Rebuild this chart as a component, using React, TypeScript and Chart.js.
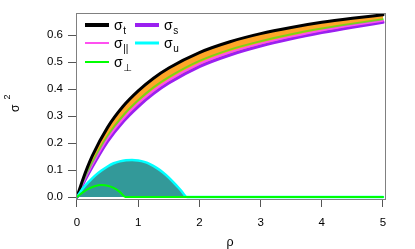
import { useEffect, useRef } from 'react';
import { Chart, registerables } from 'chart.js';

Chart.register(...registerables);

// rho grid for the upper band of curves
const rhoTop = [0, 0.1, 0.25, 0.5, 0.75, 1, 1.25, 1.5, 2, 2.5, 3, 3.5, 4, 4.5, 5];
const sigmaT = [0, 0.068, 0.152, 0.258, 0.335, 0.393, 0.44, 0.478, 0.535, 0.575, 0.605, 0.628, 0.647, 0.662, 0.675];
const sigmaPerpTop = [0, 0.057, 0.128, 0.227, 0.301, 0.358, 0.406, 0.444, 0.504, 0.546, 0.577, 0.603, 0.624, 0.642, 0.658];
const sigmaPar = [0, 0.053, 0.12, 0.217, 0.289, 0.347, 0.394, 0.433, 0.493, 0.536, 0.568, 0.594, 0.617, 0.636, 0.653];
const sigmaS = [0, 0.049, 0.112, 0.206, 0.278, 0.335, 0.383, 0.422, 0.483, 0.526, 0.559, 0.586, 0.609, 0.629, 0.647];

// sigma_u bump
const rhoU = [0, 0.1, 0.2, 0.3, 0.4, 0.5, 0.6, 0.7, 0.8, 0.9, 1.0, 1.1, 1.2, 1.3, 1.4, 1.5, 1.6, 1.7, 1.8, 5];
const sigmaU = [0, 0.033, 0.058, 0.08, 0.098, 0.113, 0.125, 0.132, 0.136, 0.137, 0.135, 0.13, 0.121, 0.108, 0.092, 0.072, 0.049, 0.024, 0, 0];

// sigma_perp bump
const rhoPerp = [0, 0.1, 0.2, 0.3, 0.4, 0.5, 0.6, 0.7, 0.79, 5];
const sigmaPerp = [0, 0.018, 0.032, 0.041, 0.044, 0.042, 0.034, 0.019, 0, 0];

const xTicks = [0, 1, 2, 3, 4, 5];
const yTicks = [0, 0.1, 0.2, 0.3, 0.4, 0.5, 0.6];

const legendSubs = ['t', 's', '||', 'u', '⊥'];

const FONT = '"Liberation Sans", Arial, "DejaVu Sans", sans-serif';

function pts(xs: number[], ys: number[]) {
  return xs.map((x, i) => ({ x, y: ys[i] }));
}

const decorPlugin = {
  id: 'decor',
  afterDraw(chart: any) {
    const ctx = chart.ctx as CanvasRenderingContext2D;
    const a = chart.chartArea;
    ctx.save();
    // box
    ctx.strokeStyle = '#808080';
    ctx.lineWidth = 1;
    ctx.strokeRect(a.left + 0.5, a.top + 0.5, a.right - a.left, a.bottom - a.top);

    // legend
    const items = [
      { sub: legendSubs[0], color: '#000000', w: 4, x: 85, y: 25 },
      { sub: legendSubs[1], color: '#9A20F0', w: 4, x: 135, y: 25 },
      { sub: legendSubs[2], color: '#FF50F0', w: 2, x: 85, y: 43 },
      { sub: legendSubs[3], color: '#00FFFF', w: 3, x: 135, y: 43 },
      { sub: legendSubs[4], color: '#00FF00', w: 2, x: 85, y: 62 },
    ];
    for (const it of items) {
      ctx.strokeStyle = it.color;
      ctx.lineWidth = it.w;
      ctx.lineCap = 'butt';
      ctx.beginPath();
      ctx.moveTo(it.x, it.y);
      ctx.lineTo(it.x + 24, it.y);
      ctx.stroke();
      ctx.fillStyle = '#000';
      ctx.textAlign = 'left';
      ctx.textBaseline = 'alphabetic';
      ctx.font = '14px ' + FONT;
      const tx = it.x + 29;
      ctx.fillText('σ', tx, it.y + 5);
      const sw = ctx.measureText('σ').width;
      ctx.font = '10px ' + FONT;
      ctx.fillText(it.sub, tx + sw + 0.5, it.y + 8.5);
    }

    // y title sigma^2
    ctx.save();
    ctx.translate(18.5, 106);
    ctx.rotate(-Math.PI / 2);
    ctx.fillStyle = '#000';
    ctx.textAlign = 'left';
    ctx.textBaseline = 'alphabetic';
    ctx.font = '12px ' + FONT;
    ctx.fillText('σ', -6, 0);
    ctx.font = '9px ' + FONT;
    ctx.fillText('2', 6.5, -9);
    ctx.restore();

    // x title rho
    ctx.fillStyle = '#000';
    ctx.textAlign = 'center';
    ctx.font = '12.5px ' + FONT;
    ctx.fillText('ρ', 230, 246);
    ctx.restore();
  },
};

export default function App() {
  const ref = useRef<HTMLCanvasElement | null>(null);
  useEffect(() => {
    if (!ref.current) return;
    const line = {
      pointRadius: 0,
      cubicInterpolationMode: 'monotone' as const,
      borderJoinStyle: 'round' as const,
      borderCapStyle: 'round' as const,
    };
    const chart = new Chart(ref.current, {
      type: 'line',
      data: {
        datasets: [
          { ...line, label: 'perp', data: pts(rhoPerp, sigmaPerp), borderColor: '#00FF00', borderWidth: 2, fill: false },
          { ...line, label: 'u', data: pts(rhoU, sigmaU), borderColor: '#00FFFF', borderWidth: 2.5, fill: 'origin', backgroundColor: 'rgba(0,128,128,0.8)' },
          { ...line, label: 't', data: pts(rhoTop, sigmaT), borderColor: '#000000', borderWidth: 3, fill: 5, backgroundColor: 'rgb(255,165,40)' },
          { ...line, label: 'perpTop', data: pts(rhoTop, sigmaPerpTop), borderColor: 'rgba(0,255,0,0.5)', borderWidth: 2, fill: false },
          { ...line, label: 'par', data: pts(rhoTop, sigmaPar), borderColor: '#FF50F0', borderWidth: 2, fill: false },
          { ...line, label: 's', data: pts(rhoTop, sigmaS), borderColor: '#9A20F0', borderWidth: 3, fill: false },
        ],
      },
      options: {
        responsive: false,
        animation: false,
        layout: { padding: { left: 0, top: 13, right: 30, bottom: 0 } },
        plugins: {
          legend: { display: false },
          tooltip: { enabled: false },
          filler: { drawTime: 'beforeDatasetsDraw' } as any,
        },
        scales: {
          x: {
            type: 'linear',
            min: -0.0163,
            max: 5.0327,
            afterFit(scale: any) { scale.height = 50; },
            afterBuildTicks(scale: any) { scale.ticks = xTicks.map((v) => ({ value: v })); },
            border: { display: false },
            grid: { display: true, drawOnChartArea: false, drawTicks: true, tickLength: 8, color: '#555', lineWidth: 1 },
            ticks: { color: '#000', font: { family: FONT, size: 11.5 }, padding: 9, maxRotation: 0, callback: (v: any) => String(v) },
          },
          y: {
            type: 'linear',
            min: -0.0074,
            max: 0.6815,
            afterFit(scale: any) { scale.width = 76; },
            afterBuildTicks(scale: any) { scale.ticks = yTicks.map((v) => ({ value: v })); },
            border: { display: false },
            grid: { display: true, drawOnChartArea: false, drawTicks: true, tickLength: 8, color: '#555', lineWidth: 1 },
            ticks: { color: '#000', font: { family: FONT, size: 11.5 }, padding: 5, callback: (v: any) => Number(v).toFixed(1) },
          },
        },
      },
      plugins: [decorPlugin],
    });
    return () => chart.destroy();
  }, []);
  return (
    <div style={{ position: 'absolute', left: 0, top: 0, width: 415, height: 249, background: '#fff' }}>
      <canvas ref={ref} width={415} height={249} style={{ display: 'block' }} />
    </div>
  );
}
